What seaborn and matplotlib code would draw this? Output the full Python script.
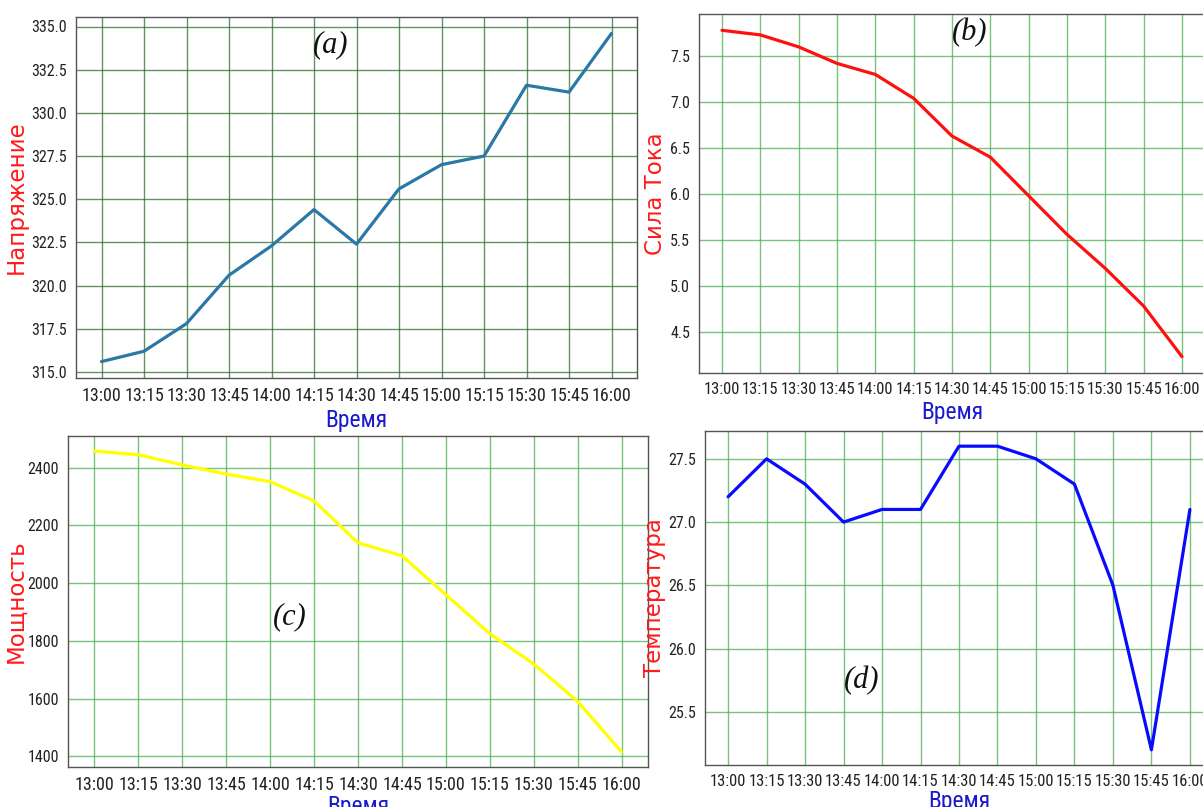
import matplotlib
matplotlib.use("Agg")
import matplotlib.pyplot as plt
from matplotlib.ticker import MultipleLocator, FormatStrFormatter
import numpy as np
import pandas as pd
import seaborn as sns

# Measurement times (every 15 minutes)
times = ["13:00", "13:15", "13:30", "13:45", "14:00", "14:15", "14:30",
         "14:45", "15:00", "15:15", "15:30", "15:45", "16:00"]

# Voltage
voltage = [315.6, 316.2, 317.8, 320.6, 322.3, 324.4, 322.4,
           325.6, 327.0, 327.5, 331.6, 331.2, 334.6]
# Current
current = [7.78, 7.73, 7.60, 7.42, 7.30, 7.04, 6.63,
           6.40, 5.98, 5.56, 5.19, 4.78, 4.23]
# Power
power = [2458, 2445, 2410, 2378, 2352, 2285, 2140,
         2095, 1960, 1825, 1720, 1590, 1415]
# Temperature
temperature = [27.2, 27.5, 27.3, 27.0, 27.1, 27.1, 27.6,
               27.6, 27.5, 27.3, 26.5, 25.2, 27.1]

sns.set_style("white")
plt.rcParams["font.family"] = ["DejaVu Sans"]

W, H = 1203, 807
fig = plt.figure(figsize=(W / 100, H / 100), dpi=100)
fig.patch.set_facecolor("white")


def px_axes(left, top, right, bottom):
    return fig.add_axes([left / W, 1 - bottom / H, (right - left) / W, (bottom - top) / H])


panels = [
    # values, ylabel, line colour, box (l, t, r, b), y step, fmt, grid colour,
    # tick colour, x tick font size, ylabel right edge (px), xlabel pad, tag, tag pos
    (voltage, "Напряжение", "#2b78a6", (76, 17, 637, 378), 2.5, "%.1f", "#2f6f2f", "#333333", 13, 28, 3, "(a)", (331, 45)),
    (current, "Сила Тока", "#ff1010", (699, 14, 1205, 373), 0.5, "%.1f", "#4caf50", "#e04040", 12, 667, 3, "(b)", (970, 33)),
    (power, "Мощность", "#ffff00", (68, 436, 648, 767), 200, "%d", "#4caf50", "#e04040", 13, 27, 1, "(c)", (290, 617)),
    (temperature, "Температура", "#0a0aff", (705, 431, 1213, 765), 0.5, "%.1f", "#4caf50", "#e04040", 12, 666, 1, "(d)", (862, 681)),
]

xpos = np.arange(len(times))

for vals, ylab, col, box, step, fmt, gcol, tcol, tfs, yl_x, xpad, tag, tpos in panels:
    ax = px_axes(*box)
    df = pd.DataFrame({"t": xpos, "v": vals})
    sns.lineplot(data=df, x="t", y="v", ax=ax, color=col, linewidth=2.3)
    ax.set_xticks(xpos)
    ax.set_xticklabels(times)
    ax.yaxis.set_major_locator(MultipleLocator(step))
    ax.yaxis.set_major_formatter(FormatStrFormatter(fmt))
    ax.margins(x=0.05, y=0.05)
    ax.grid(True, color=gcol, linewidth=1.0, alpha=0.75)
    ax.set_axisbelow(True)
    for s in ax.spines.values():
        s.set_color("#555555")
        s.set_linewidth(1.0)
    ax.tick_params(axis="both", length=3.5, width=1, color=tcol, pad=3)
    for lab in ax.get_xticklabels():
        lab.set_family("Roboto Condensed")
        lab.set_fontsize(tfs)
        lab.set_color("#222222")
    for lab in ax.get_yticklabels():
        lab.set_family("Roboto Condensed")
        lab.set_fontsize(11.5)
        lab.set_color("#222222")
    ax.set_xlabel("Время", color="#1a1acc", fontsize=17, family="Roboto Condensed", labelpad=xpad)
    ax.set_ylabel(ylab, color="#ff1a1a", fontsize=16.5, family="DejaVu Sans")
    ax.yaxis.set_label_coords((yl_x - box[0]) / (box[2] - box[0]), 0.5)
    fig.text(tpos[0] / W, 1 - tpos[1] / H, tag, ha="center", va="center",
             family="Liberation Serif", style="italic", fontsize=22, color="#111111")

fig.savefig("out.png", dpi=100, facecolor="white")
